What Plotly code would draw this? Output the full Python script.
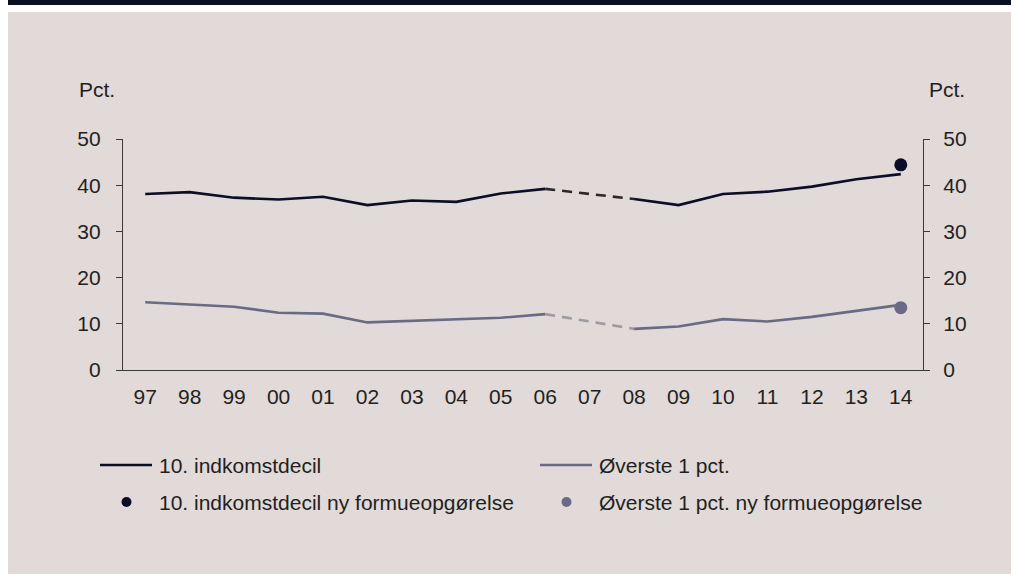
import plotly.graph_objects as go

years = ["97", "98", "99", "00", "01", "02", "03", "04", "05", "06",
         "07", "08", "09", "10", "11", "12", "13", "14"]
decil10 = [38.1, 38.5, 37.3, 36.9, 37.5, 35.7, 36.7, 36.4, 38.2, 39.2,
           None, 37.0, 35.7, 38.1, 38.6, 39.7, 41.3, 42.4]
top1 = [14.65, 14.2, 13.7, 12.4, 12.2, 10.3, 10.6, 11.0, 11.3, 12.1,
        None, 8.9, 9.4, 11.0, 10.5, 11.5, 12.8, 14.1]
new_year = ["14"]
decil10_new = [44.4]
top1_new = [13.5]
gap_years = ["06", "08"]
y_ticks = [0, 10, 20, 30, 40, 50]

name_d = "10. indkomstdecil"
name_t = "Øverste 1 pct."
name_dn = "10. indkomstdecil ny formueopgørelse"
name_tn = "Øverste 1 pct. ny formueopgørelse"

C_DARK = "#0c0d26"
C_DARK_DASH = "#2b2828"
C_GREY = "#6a6a86"
C_GREY_DASH = "#9c9ca2"
BG = "#e1dad9"
TXT = "#231f20"
FONT = "Liberation Sans, Arial, sans-serif"
FS = 21

W, H = 1019, 575
L, R, T, B = 123, 923, 139, 370


def px(x):
    return (x - L) / (R - L)


def py(y):
    return (B - y) / (B - T)


def gap_vals(vals):
    return [vals[years.index(g)] for g in gap_years]


fig = go.Figure()
fig.add_trace(go.Scatter(x=years, y=decil10, mode="lines", name=name_d,
                         line=dict(color=C_DARK, width=2.6), connectgaps=False))
fig.add_trace(go.Scatter(x=gap_years, y=gap_vals(decil10), mode="lines",
                         line=dict(color=C_DARK_DASH, width=2.6, dash="10px,7px"),
                         showlegend=False))
fig.add_trace(go.Scatter(x=years, y=top1, mode="lines", name=name_t,
                         line=dict(color=C_GREY, width=2.6), connectgaps=False))
fig.add_trace(go.Scatter(x=gap_years, y=gap_vals(top1), mode="lines",
                         line=dict(color=C_GREY_DASH, width=2.6, dash="10px,7px"),
                         showlegend=False))
fig.add_trace(go.Scatter(x=new_year, y=decil10_new, mode="markers", name=name_dn,
                         marker=dict(color=C_DARK, size=13)))
fig.add_trace(go.Scatter(x=new_year, y=top1_new, mode="markers", name=name_tn,
                         marker=dict(color=C_GREY, size=13), yaxis="y2"))

shapes = [
    dict(type="rect", xref="paper", yref="paper", x0=px(8), x1=px(1011),
         y0=py(574), y1=py(12), fillcolor=BG, line=dict(width=0), layer="below"),
    dict(type="rect", xref="paper", yref="paper", x0=px(8), x1=px(1011),
         y0=py(5), y1=py(0), fillcolor="#0b0f22", line=dict(width=0), layer="below"),
]
annotations = [
    dict(text="Pct.", xref="paper", yref="paper", x=px(77), y=py(89),
         xanchor="left", yanchor="middle", showarrow=False,
         font=dict(size=FS, color=TXT, family=FONT)),
    dict(text="Pct.", xref="paper", yref="paper", x=px(927), y=py(89),
         xanchor="left", yanchor="middle", showarrow=False,
         font=dict(size=FS, color=TXT, family=FONT)),
]

# manual legend
legend_items = [
    (name_d, "line", C_DARK, 100, 465),
    (name_t, "line", C_GREY, 540, 465),
    (name_dn, "dot", C_DARK, 100, 502),
    (name_tn, "dot", C_GREY, 540, 502),
]
for label, kind, color, x0, yc in legend_items:
    if kind == "line":
        shapes.append(dict(type="line", xref="paper", yref="paper",
                           x0=px(x0), x1=px(x0 + 52), y0=py(yc), y1=py(yc),
                           line=dict(color=color, width=2.5)))
    else:
        cx = x0 + 26.5
        shapes.append(dict(type="circle", xref="paper", yref="paper",
                           x0=px(cx - 5), x1=px(cx + 5), y0=py(yc + 5), y1=py(yc - 5),
                           fillcolor=color, line=dict(width=0)))
    annotations.append(dict(text=label, xref="paper", yref="paper",
                            x=px(x0 + 57), y=py(yc), xanchor="left", yanchor="middle",
                            showarrow=False, font=dict(size=FS, color=TXT, family=FONT)))

axis_common = dict(range=[0, 50], tickvals=y_ticks, showgrid=False, zeroline=False,
                   showline=True, linecolor="#3a3a3a", linewidth=1.3,
                   ticks="outside", ticklen=6, tickcolor="#3a3a3a", tickwidth=1.3,
                   tickfont=dict(size=FS, color=TXT, family=FONT), fixedrange=True)

fig.update_layout(
    width=W, height=H,
    margin=dict(l=L, r=W - R, t=T, b=H - B),
    paper_bgcolor="white", plot_bgcolor=BG,
    showlegend=False,
    hovermode=False,
    font=dict(family=FONT, color=TXT),
    xaxis=dict(type="category", categoryorder="array", categoryarray=years,
               range=[-0.5, len(years) - 0.5], showgrid=False, zeroline=False,
               showline=True, linecolor="#3a3a3a", linewidth=1.3, ticks="",
               tickfont=dict(size=FS, color=TXT, family=FONT), ticklabelstandoff=8,
               fixedrange=True),
    yaxis=dict(side="left", ticklabelstandoff=11, **axis_common),
    yaxis2=dict(side="right", overlaying="y", ticklabelstandoff=9, **axis_common),
    shapes=shapes,
    annotations=annotations,
)

fig.write_html("out.html", config={"displayModeBar": False},
               post_script="document.body.style.margin='0';")
